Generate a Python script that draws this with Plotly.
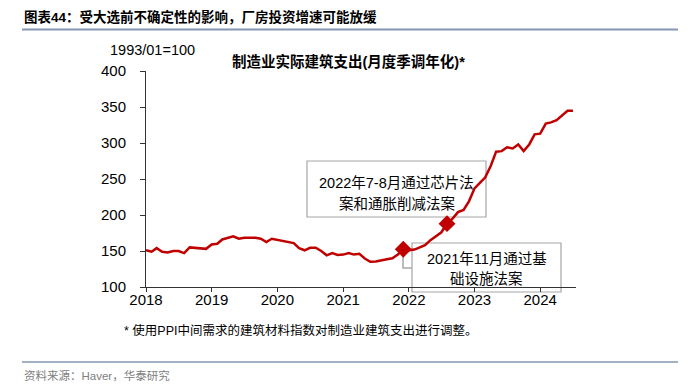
import plotly.graph_objects as go
import pandas as pd

# ---------------- data ----------------
dates = pd.date_range("2018-01-01", "2024-07-01", freq="MS")
values_2018 = [151, 149, 154, 149, 148, 150, 150, 147, 155, 154.5, 153, 153]
values_2019 = [159, 160, 166, 168, 170.5, 167, 168.5, 168.5, 168.5, 167, 162.5, 167]
values_2020 = [165.5, 163.5, 162, 161, 154, 151, 154.5, 154.5, 150, 144, 147, 144.5]
values_2021 = [145, 147, 145, 146, 139.5, 135, 135.5, 137.5, 138.5, 140, 145, 152.5]
values_2022 = [151, 152, 155, 158, 165, 171, 176, 188, 195, 204, 207, 219]
values_2023 = [237, 245, 252, 268, 288, 288.7, 294, 292.5, 298, 288.7, 298, 312]
values_2024 = [313, 327, 328.6, 331.8, 338.8, 344.8, 344.8]
values = values_2018 + values_2019 + values_2020 + values_2021 + values_2022 + values_2023 + values_2024

event_dates = ["2021-12-01", "2022-08-01"]
event_labels = [["2021年11月通过基", "础设施法案"], ["2022年7-8月通过芯片法", "案和通胀削减法案"]]

year_ticks = [f"{y}-01-01" for y in range(2018, 2025)]
year_labels = [str(y) for y in range(2018, 2025)]

series = pd.Series(values, index=dates)
event_values = [series[pd.Timestamp(d)] for d in event_dates]

# ---------------- layout helpers ----------------
W, H = 700, 388
L, R, T, B = 146, 576, 71, 287
RED = "#C00000"
GREY = "#A6A6A6"
SEP = "#8497B0"
FONT = "Liberation Sans, Arial, Noto Sans CJK SC, sans-serif"


def px(x):
    return (x - L) / (R - L)


def py(y):
    return (B - y) / (B - T)


fig = go.Figure()
fig.add_trace(go.Scatter(x=dates, y=values, mode="lines",
                         line=dict(color=RED, width=2.5), hoverinfo="skip",
                         showlegend=False))
fig.add_trace(go.Scatter(x=pd.to_datetime(event_dates), y=event_values, mode="markers",
                         marker=dict(symbol="diamond", size=13, color=RED),
                         showlegend=False, hoverinfo="skip"))

shapes = []
# separator lines
shapes.append(dict(type="line", xref="paper", yref="paper", x0=px(22), x1=px(678),
                   y0=py(29.5), y1=py(29.5), line=dict(color=SEP, width=2)))
shapes.append(dict(type="line", xref="paper", yref="paper", x0=px(22), x1=px(678),
                   y0=py(362), y1=py(362), line=dict(color=SEP, width=1.5)))
# annotation boxes (below traces)
boxes = [(412, 243, 561, 292), (307, 161, 486, 217)]
for (x0, y0, x1, y1) in boxes:
    shapes.append(dict(type="rect", xref="paper", yref="paper", layer="below",
                       x0=px(x0), x1=px(x1), y0=py(y1), y1=py(y0),
                       fillcolor="white", line=dict(color=GREY, width=1.2)))
# connector from first marker to its box
shapes.append(dict(type="path", xref="paper", yref="paper", layer="below",
                   path=f"M {px(403)} {py(252)} L {px(403)} {py(268)} L {px(412)} {py(268)}",
                   line=dict(color=GREY, width=1.5)))

annotations = []


def text(x, y, s, size, anchor="left", color="black", bold=False):
    if bold:
        s = f"<b>{s}</b>"
    annotations.append(dict(xref="paper", yref="paper", x=px(x), y=py(y), text=s,
                            showarrow=False, xanchor=anchor, yanchor="middle",
                            font=dict(size=size, color=color, family=FONT)))


text(22, 17, "图表44：受大选前不确定性的影响，厂房投资增速可能放缓", 13.5, bold=True)
text(108, 50, "1993/01=100", 14.5)
text(348, 62, "制造业实际建筑支出(月度季调年化)*", 14.5, anchor="center", bold=True)
# event box texts
text(486.5, 259, event_labels[0][0], 14.5, anchor="center")
text(486.5, 278, event_labels[0][1], 14.5, anchor="center")
text(396.5, 183, event_labels[1][0], 14.5, anchor="center")
text(396.5, 203, event_labels[1][1], 14.5, anchor="center")
text(122, 330, "* 使用PPI中间需求的建筑材料指数对制造业建筑支出进行调整。", 12.5)
text(22, 375, "资料来源：Haver，华泰研究", 11.5, color="#808080")

fig.update_layout(
    width=W, height=H,
    margin=dict(l=L, r=W - R, t=T, b=H - B),
    paper_bgcolor="white", plot_bgcolor="white",
    font=dict(family=FONT, color="black"),
    shapes=shapes, annotations=annotations,
    xaxis=dict(type="date", range=["2018-01-01", "2024-07-18"],
               tickvals=year_ticks, ticktext=year_labels,
               showgrid=False, zeroline=False, showline=True, linecolor="#333333",
               linewidth=1, ticks="outside", ticklen=4, tickcolor="#333333",
               ticklabelstandoff=-5,
               tickfont=dict(size=15, family=FONT)),
    yaxis=dict(range=[100, 400], tickvals=[100, 150, 200, 250, 300, 350, 400],
               showgrid=False, zeroline=False, showline=True, linecolor="#333333",
               linewidth=1, ticks="outside", ticklen=5, tickcolor="#333333",
               ticklabelstandoff=11,
               tickfont=dict(size=15, family=FONT)),
)

fig.write_html("out.html", config={"displayModeBar": False},
               post_script="document.body.style.margin='0';document.body.style.overflow='hidden';")
